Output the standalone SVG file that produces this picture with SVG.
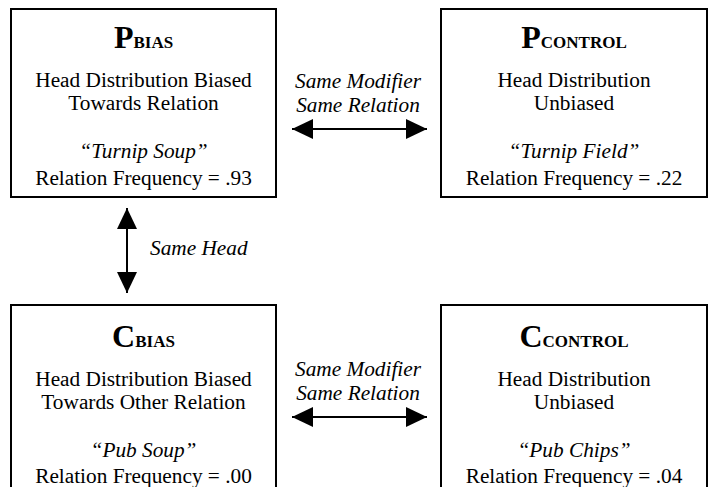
<svg xmlns="http://www.w3.org/2000/svg" width="712" height="487" viewBox="0 0 712 487">
<style>
.box{fill:#fff;stroke:#000;stroke-width:2}
text{font-family:'Liberation Serif','Times New Roman',Times,'DejaVu Serif',serif;fill:#000;font-size:21.3px}
.c{text-anchor:middle}
.t{font-weight:bold;font-size:32px}
.s{font-weight:bold;font-size:17px}
.i{font-style:italic}
.ln{stroke:#000;stroke-width:2;fill:none}
</style>
<defs>
<marker id="ah" markerUnits="userSpaceOnUse" markerWidth="22" markerHeight="22" refX="21" refY="10" orient="auto-start-reverse">
<path d="M0,0 L21,10 L0,20 Z" fill="#000"/>
</marker>
</defs>
<g id="connectors" font-family="Liberation Serif, serif">
<line class="ln" x1="292" y1="129" x2="427" y2="129" marker-start="url(#ah)" marker-end="url(#ah)"/>
<line class="ln" x1="292" y1="417" x2="427" y2="417" marker-start="url(#ah)" marker-end="url(#ah)"/>
<line class="ln" x1="127" y1="208" x2="127" y2="293" marker-start="url(#ah)" marker-end="url(#ah)"/>
<text class="i c" x="358" y="88">Same Modifier</text>
<text class="i c" x="358" y="112">Same Relation</text>
<text class="i c" x="358" y="376">Same Modifier</text>
<text class="i c" x="358" y="400">Same Relation</text>
<text class="i" x="150" y="255">Same Head</text>
</g>
<g id="p-bias">
<rect class="box" x="11" y="9" width="265" height="188"/>
<text class="c" x="143.5" y="48"><tspan class="t">P</tspan><tspan class="s">BIAS</tspan></text>
<text class="c" x="143.5" y="87">Head Distribution Biased</text>
<text class="c" x="143.5" y="110">Towards Relation</text>
<text class="c i" x="143.5" y="158">“Turnip Soup”</text>
<text class="c" x="143.5" y="185">Relation Frequency = .93</text>
</g>
<g id="p-control">
<rect class="box" x="441" y="9" width="266" height="188"/>
<text class="c" x="574" y="48"><tspan class="t">P</tspan><tspan class="s">CONTROL</tspan></text>
<text class="c" x="574" y="87">Head Distribution</text>
<text class="c" x="574" y="110">Unbiased</text>
<text class="c i" x="574" y="158">“Turnip Field”</text>
<text class="c" x="574" y="185">Relation Frequency = .22</text>
</g>
<g id="c-bias">
<rect class="box" x="11" y="305" width="265" height="190"/>
<text class="c" x="143.5" y="347"><tspan class="t">C</tspan><tspan class="s">BIAS</tspan></text>
<text class="c" x="143.5" y="386">Head Distribution Biased</text>
<text class="c" x="143.5" y="409">Towards Other Relation</text>
<text class="c i" x="143.5" y="457">“Pub Soup”</text>
<text class="c" x="143.5" y="483">Relation Frequency = .00</text>
</g>
<g id="c-control">
<rect class="box" x="441" y="305" width="266" height="190"/>
<text class="c" x="574" y="347"><tspan class="t">C</tspan><tspan class="s">CONTROL</tspan></text>
<text class="c" x="574" y="386">Head Distribution</text>
<text class="c" x="574" y="409">Unbiased</text>
<text class="c i" x="574" y="457">“Pub Chips”</text>
<text class="c" x="574" y="483">Relation Frequency = .04</text>
</g>
</svg>
